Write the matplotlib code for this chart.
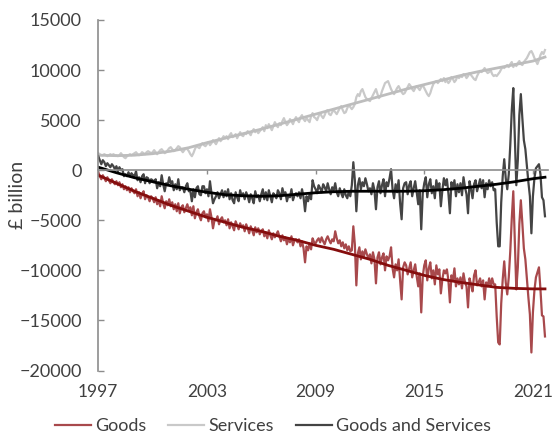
import numpy as np
import matplotlib.pyplot as plt

plt.rcParams['font.family'] = ['Lato', 'DejaVu Sans']

# monthly balances, Jan 1997 - Sep 2021 (one row per year)
goods = [
    -200, -600, -900, -500, -800, -1100, -700, -1000, -1300, -900, -1200, -1400,
    -1100, -1500, -1200, -1700, -1400, -1900, -1600, -2000, -1700, -2200, -1800, -2100,
    -2300, -1900, -2600, -2200, -2800, -2400, -2100, -2900, -2500, -2700, -3100, -2600,
    -2800, -3200, -2700, -3400, -3000, -3600, -2600, -3300, -3800, -3100, -3500, -2900,
    -3600, -3200, -3900, -3400, -4100, -3300, -4300, -3700, -3500, -4200, -3800, -3400,
    -4000, -3700, -4500, -3600, -4800, -4200, -3900, -4600, -5000, -4300, -4100, -4700,
    -4400, -5100, -3900, -4700, -5800, -5000, -5000, -4600, -5400, -4900, -4700, -5200,
    -5000, -5500, -4900, -5800, -5200, -5600, -6000, -5100, -5500, -5900, -5300, -5700,
    -5500, -6100, -5400, -5800, -6300, -5600, -6000, -6500, -5700, -6200, -5800, -6400,
    -6100, -5900, -6600, -6200, -6800, -6000, -6500, -6900, -6300, -6700, -6400, -6100,
    -6600, -7100, -6500, -7000, -6700, -7400, -6800, -7200, -6600, -7500, -7000, -6900,
    -7200, -6900, -7600, -7100, -7800, -9200, -7600, -8000, -7300, -7900, -6800, -7200,
    -7300, -7000, -6800, -7200, -6700, -7100, -7400, -6900, -6600, -7000, -7300, -6900,
    -7100, -6100, -6800, -7300, -7000, -7600, -7200, -7800, -7400, -8000, -7600, -8100,
    -8000, -5600, -7400, -11500, -8300, -7700, -8900, -8100, -8600, -7900, -8400, -8800,
    -8400, -9300, -8200, -8900, -11300, -8700, -8200, -9400, -8700, -8300, -10000, -8600,
    -9000, -8600, -7700, -9800, -10700, -9400, -10000, -8900, -11000, -12900, -9700, -9200,
    -9500, -10400, -9800, -9200, -10700, -10000, -9400, -10600, -11600, -10300, -14200, -10600,
    -9500, -9000, -11000, -9800, -9200, -10800, -10000, -11400, -9500, -10400, -9900, -12300,
    -10900, -10000, -10300, -9900, -11000, -13200, -10500, -11000, -9800, -11600, -10800, -11400,
    -10700, -11800, -10300, -11200, -11600, -13700, -10800, -11400, -12100, -10500, -10000, -11500,
    -11200, -10800, -11600, -11000, -12900, -11200, -11600, -10800, -11600, -10800, -11400, -11400,
    -14600, -17200, -17400, -13300, -10900, -9100, -11200, -12400, -10700, -8100, -4800, -2100,
    -7100, -11900, -9700, -5400, -3000, -5300, -7800, -8900, -10800, -12700, -14400, -18200,
    -14200, -12000, -10700, -10200, -9700, -11900, -14500, -14600, -16600,
]

services = [
    1700, 1600, 1500, 1500, 1600, 1500, 1400, 1500, 1600, 1500, 1600, 1500,
    1500, 1400, 1500, 1700, 1500, 1300, 1200, 1400, 1500, 1600, 1500, 1600,
    1700, 1800, 1600, 1500, 1600, 1800, 1700, 1600, 1800, 1900, 1800, 1700,
    1800, 2000, 1800, 1600, 1800, 2000, 2100, 1900, 1700, 1800, 2000, 2200,
    2300, 2100, 1900, 2000, 2200, 2400, 2300, 2000, 1800, 2000, 2200, 2100,
    1900, 1600, 1400, 1700, 2100, 2400, 2300, 2200, 2500, 2700, 2500, 2400,
    2600, 2800, 2500, 2700, 3000, 2800, 2600, 2900, 3200, 2900, 3100, 3400,
    3200, 3400, 3100, 3500, 3700, 3300, 3400, 3600, 3200, 3500, 3800, 3500,
    3400, 3700, 3600, 3900, 3700, 3500, 3900, 4100, 3800, 4000, 3700, 3900,
    4100, 4300, 3900, 4500, 4200, 4600, 4300, 4000, 4400, 4800, 4500, 4300,
    4700, 4500, 4900, 5200, 4800, 4500, 4700, 5100, 4900, 4600, 5000, 5300,
    5000, 4800, 5300, 5500, 5100, 4900, 5200, 5000, 4800, 5400, 5700, 5300,
    5200, 5000, 5400, 5700, 5400, 5200, 5500, 5900, 6000, 5600, 5500, 5800,
    6000, 5800, 5600, 5900, 6200, 6400, 6000, 5700, 5800, 6200, 6500, 6300,
    6100, 6300, 6600, 7300, 7600, 7400, 7900, 8100, 7700, 7300, 7100, 7000,
    6900, 7200, 7500, 7800, 8100, 7600, 7200, 7400, 7900, 8300, 8700, 8800,
    8900, 8500, 8100, 7800, 7600, 7900, 8200, 8400, 8100, 7800, 7600, 7700,
    8000, 8300, 8600, 8400, 8100, 7900, 8200, 8400, 8200, 8000, 8300, 8500,
    8200, 7900, 7600, 7400, 7700, 8200, 8600, 8800, 8900, 8700, 8900, 9100,
    8900, 9200, 8800, 9000, 8700, 8900, 9300, 9100, 8800, 9000, 9400, 9200,
    9400, 9300, 9600, 9500, 9200, 9400, 9700, 9500, 9300, 9100, 9000, 9400,
    9700, 9900, 9800, 10000, 10200, 9900, 9700, 9800, 10000, 9600, 9400, 9500,
    9400, 9600, 9800, 10100, 10300, 10200, 10400, 10500, 10300, 10600, 10800, 10300,
    10600, 10400, 10700, 10900, 10600, 10500, 10800, 11000, 11200, 11500, 11800, 11900,
    11600, 11200, 10900, 10600, 11000, 11500, 11800, 11600, 12000,
]

goods_services = [
    1400, 1000, 600, 1000, 800, 400, 700, 500, 300, 600, 400, 100,
    400, -100, 300, 0, 100, -600, -400, -600, -200, -600, -300, -500,
    -600, -100, -1000, -700, -1200, -600, -400, -1300, -700, -800, -1300, -900,
    -1000, -1200, -900, -1800, -1200, -1600, -500, -1400, -2100, -1300, -1500, -700,
    -1300, -1100, -2000, -1400, -1900, -900, -2000, -1700, -1700, -2200, -1600, -1300,
    -2100, -2100, -3100, -1900, -2700, -1800, -1600, -2400, -2500, -1600, -1600, -2300,
    -1900, -2600, -1100, -2300, -3300, -2900, -2600, -2200, -2800, -2400, -2000, -2700,
    -2100, -2600, -1900, -2900, -2300, -3000, -3300, -2200, -2700, -3100, -2000, -2600,
    -2300, -2900, -2200, -2600, -3200, -2400, -2800, -3300, -2100, -2700, -2500, -3100,
    -2400, -1900, -2900, -2200, -3000, -2000, -2600, -3200, -2300, -2500, -2800, -2000,
    -2300, -2900, -1800, -2400, -2200, -3100, -2500, -2700, -1900, -3000, -2500, -2300,
    -2600, -2200, -2800, -1900, -2700, -4100, -2600, -3100, -2400, -2900, -1000, -1600,
    -1900, -2300, -1500, -1800, -2200, -1400, -1700, -2100, -1300, -1900, -2400, -1700,
    -2000, -1300, -2200, -2600, -1800, -2300, -2700, -1900, -2500, -2800, -2100, -2600,
    -1500, 800, -1000, -4100, -1500, -800, -1900, -1200, -1600, -800, -1400, -2100,
    -1800, -2400, -1300, -2000, -3900, -1700, -1100, -2300, -1500, -900, -2600, -1200,
    -1600, -800, 100, -1900, -2800, -1400, -2200, -1000, -3300, -4900, -1800, -1300,
    -1200, -2400, -1500, -1100, -2600, -1800, -1100, -2200, -3400, -2000, -5900, -2300,
    -1300, -700, -2700, -1400, -900, -2300, -1600, -2800, -1000, -1900, -1300, -3600,
    -2000, -800, -1500, -900, -2300, -4300, -1200, -1900, -1000, -2600, -1400, -2200,
    -1300, -2500, -700, -1700, -2400, -4300, -1100, -1900, -2800, -1400, -1000, -2100,
    -1500, -900, -1800, -1000, -2700, -1300, -1900, -1000, -1600, -1200, -2000, -1900,
    -5200, -7600, -7600, -3200, -600, 1100, -800, -1900, -400, 2500, 6000, 8200,
    3500, -1500, 1000, 5500, 7600, 5200, 3000, 2100, 400, -1200, -2600, -6300,
    -2600, -800, 200, 400, 600, -400, -2700, -3000, -4600,
]

# smoothed trends, read at the start of each year and at the last month
trend_years = list(range(1997, 2022)) + [2021 + 8 / 12]
goods_trend = [-500, -1300, -2100, -2800, -3500, -4100, -4700, -5200, -5700, -6100,
               -6600, -7000, -7500, -7900, -8400, -8900, -9500, -10000, -10500, -10900,
               -11200, -11450, -11700, -11800, -11850, -11850]
services_trend = [1500, 1450, 1500, 1650, 1900, 2250, 2750, 3200, 3650, 4100,
                  4600, 5100, 5600, 6100, 6600, 7100, 7600, 8100, 8550, 9000,
                  9450, 9850, 10200, 10550, 10900, 11300]
gs_trend = [300, -250, -750, -1150, -1550, -1900, -2200, -2450, -2550, -2600,
            -2550, -2400, -2250, -2150, -2100, -2100, -2100, -2100, -2050, -1950,
            -1800, -1600, -1400, -1150, -850, -700]

year_ticks = [1997, 2003, 2009, 2015, 2021]

months = 1997 + np.arange(len(goods)) / 12

fig = plt.figure(figsize=(5.57, 4.36), dpi=100)
ax = fig.add_axes([98.3 / 557, 1 - 370.5 / 436, 449.7 / 557, 350.5 / 436])

ax.plot(months, services, color='#c9c9c9', lw=1.6)
ax.plot(trend_years, services_trend, color='#bdbdbd', lw=2.0)
ax.plot(months, goods, color='#a8494c', lw=1.6)
ax.plot(months, goods_services, color='#444444', lw=1.6)
ax.plot(trend_years, goods_trend, color='#850d0d', lw=2.0)
ax.plot(trend_years, gs_trend, color='#000000', lw=2.0)

ax.set_xlim(1997, 1997 + 298 / 12)
ax.set_ylim(-20000, 15000)
ax.set_yticks(np.arange(-20000, 15001, 5000))

axis_grey = '#8c8c8c'
text_grey = '#404040'

for s in ['top', 'right']:
    ax.spines[s].set_visible(False)
ax.spines['left'].set_color(axis_grey)
ax.spines['left'].set_linewidth(1.2)
ax.spines['bottom'].set_position(('data', 0))
ax.spines['bottom'].set_color(axis_grey)
ax.spines['bottom'].set_linewidth(1.2)

ax.set_xticks(year_ticks)
ax.tick_params(axis='x', labelbottom=False, direction='out', length=3,
               color=axis_grey, width=1)
ax.tick_params(axis='y', direction='in', length=4, color=axis_grey, width=1,
               labelsize=13, labelcolor=text_grey, pad=12)

sec = ax.secondary_xaxis('bottom')
sec.set_xticks(year_ticks, [str(y) for y in year_ticks])
sec.spines['bottom'].set_visible(False)
sec.tick_params(length=0, labelsize=12.5, labelcolor=text_grey, pad=10)

ax.set_ylabel('£ billion', fontsize=14, color=text_grey)
ax.yaxis.set_label_coords(-0.161, 0.5)

handles = [
    plt.Line2D([], [], color='#a8494c', lw=1.6),
    plt.Line2D([], [], color='#c9c9c9', lw=1.6),
    plt.Line2D([], [], color='#444444', lw=1.6),
]
fig.legend(handles, ['Goods', 'Services', 'Goods and Services'], loc='center',
           bbox_to_anchor=(273 / 557, 1 - 426 / 436), ncol=3, frameon=False,
           fontsize=13, handlelength=2.0, handletextpad=0.25, columnspacing=1.2,
           labelcolor=text_grey)

fig.savefig('out.png', dpi=100)
